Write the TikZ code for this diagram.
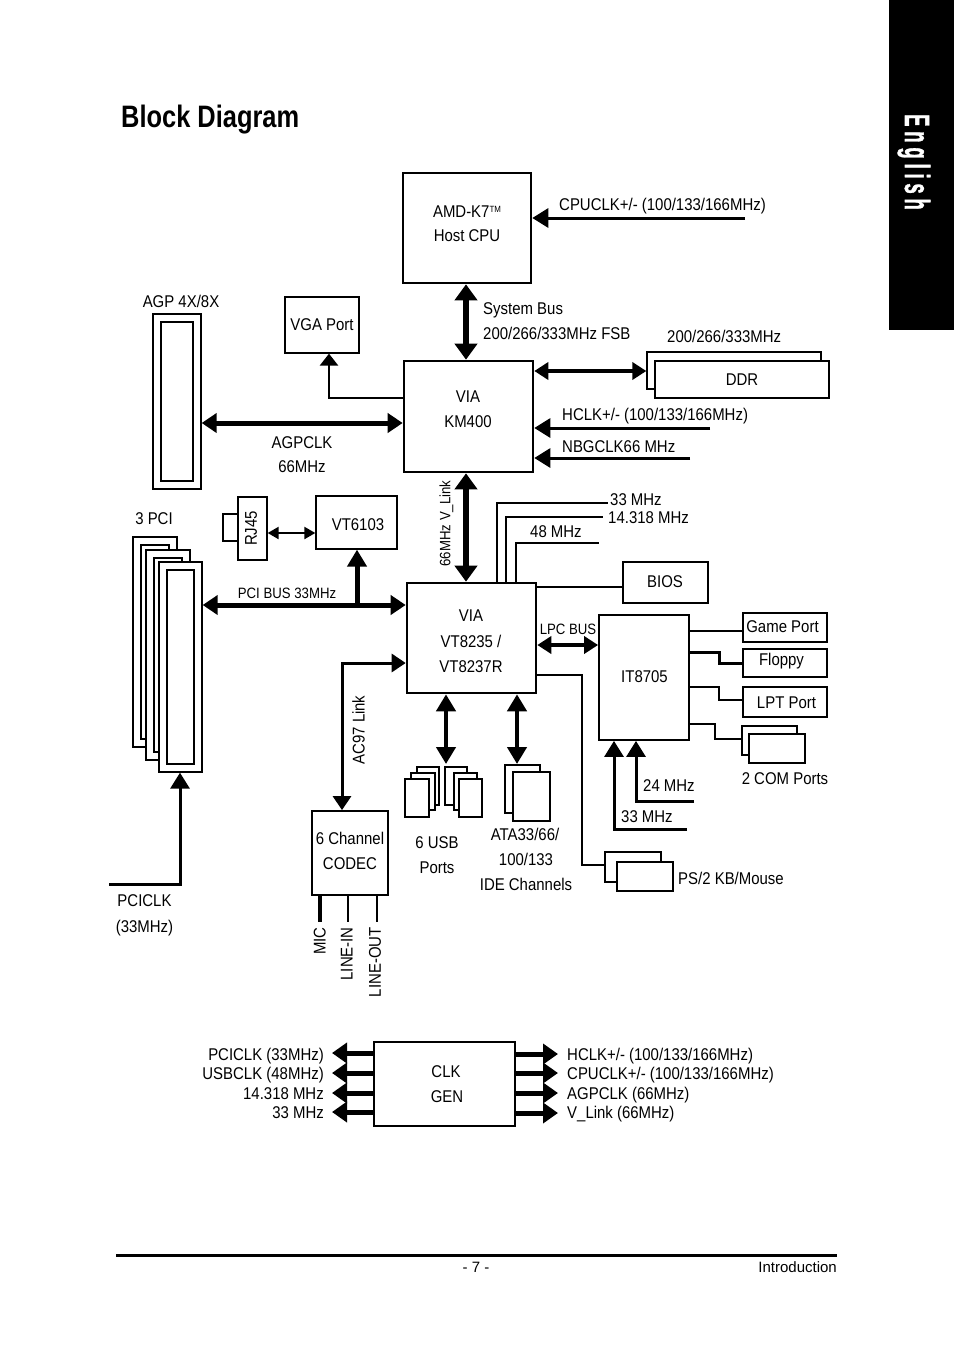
\documentclass[tikz,border=0pt]{standalone}
\usepackage{fontspec}
\setmainfont{Liberation Sans}[FakeStretch=0.88]
\newfontfamily\titlefont{Liberation Sans}[FakeStretch=0.82]
\newfontfamily\footfont{Liberation Sans}
\newfontfamily\tabfont{Liberation Sans}[BoldFeatures={FakeBold=1.5}]
\usetikzlibrary{arrows.meta}
\newcommand\mybox[6]{\node[#6, minimum width={(#4)-(#2)}, minimum height={(#5)-(#3)}] (#1) at ({((#2)+(#4))/2},{((#3)+(#5))/2}) {};}
\tikzset{
  chip/.style={draw, line width=2.6pt, fill=white, inner sep=0pt},
  chipm/.style={draw, line width=1.8pt, fill=white, inner sep=0pt},
  port/.style={draw, line width=1.3pt, fill=white, inner sep=0pt},
  lbl/.style={inner sep=0pt, anchor=base, font=\fontsize{17}{20}\selectfont},
  lblw/.style={lbl, anchor=base west},
  lble/.style={lbl, anchor=base east},
  lbls/.style={inner sep=0pt, anchor=base, font=\fontsize{15}{18}\selectfont},
  lblr/.style={inner sep=0pt, rotate=90, font=\fontsize{17}{20}\selectfont},
  wire/.style={line width=2.3pt},
  bigbus/.style={line width=5.5pt, arrows={Triangle[width=22pt,length=16pt]-Triangle[width=22pt,length=16pt]}},
  bus/.style={line width=5pt, arrows={Triangle[width=19pt,length=15pt]-Triangle[width=19pt,length=15pt]}},
  ubus/.style={line width=4.5pt, arrows={Triangle[width=19pt,length=17pt]-Triangle[width=19pt,length=17pt]}},
  busone/.style={line width=5pt, arrows={-Triangle[width=19pt,length=17pt]}},
  mbus/.style={line width=4pt, arrows={Triangle[width=17pt,length=14pt]-Triangle[width=17pt,length=14pt]}},
  clkin/.style={line width=3pt, arrows={-Triangle[width=19pt,length=16pt]}},
  vgaarrow/.style={line width=2.7pt, arrows={-Triangle[width=18pt,length=12pt]}},
  acarrow/.style={line width=3pt, arrows={Triangle[width=18pt,length=14pt]-Triangle[width=18pt,length=14pt]}},
  tinyarrow/.style={line width=2.2pt, arrows={Triangle[width=12pt,length=11pt]-Triangle[width=12pt,length=11pt]}},
  clkout/.style={line width=5pt, arrows={-Triangle[width=20pt,length=15pt]}}
}
\begin{document}
\begin{tikzpicture}[x=1pt,y=-1pt]
\useasboundingbox (0,0) rectangle (954,1352);
% English tab
\fill[black] (889,0) rectangle (954,330);
\node[inner sep=0pt, text=white] (tab) at (914,162) {\rotatebox{-90}{\scalebox{1}[1.9]{\tabfont\bfseries\fontsize{18.5}{18.5}\selectfont E\kern4.8pt n\kern4.8pt g\kern4.8pt l\kern4.8pt i\kern4.8pt s\kern4.8pt h}}};
% title
\node[inner sep=0pt, anchor=base west, font=\titlefont\bfseries\fontsize{31}{31}\selectfont] (title) at (121,127) {Block Diagram};

% CPU
\mybox{cpu}{403}{173}{531}{283}{chip}
\node[lbl] (cpuT1) at (467,217) {AMD-K7\raisebox{5pt}{\fontsize{9}{9}\selectfont TM}};
\node[lbl] (cpuT2) at (467,241.5) {Host CPU};
\coordinate (cpuclkE) at (745,218);
\draw[clkin] (cpuclkE) -- (cpuclkE -| cpu.east);
\node[lblw] (cpuclkL) at (559,210) {CPUCLK+/- (100/133/166MHz)};

% VGA / AGP
\mybox{vga}{285}{297}{359}{353}{port}
\node[lbl] (vgaT) at (322,330) {VGA Port};
\mybox{agp}{153}{314}{201}{489}{port}
\mybox{agpi}{161}{322}{193}{481}{port}
\node[lbl] (agpL) at (181,307) {AGP 4X/8X};

% KM400
\mybox{km}{404}{361}{533}{472}{chip}
\node[lbl] (kmT1) at (468,402.5) {VIA};
\node[lbl] (kmT2) at (468,427) {KM400};
\draw[bigbus] (cpu.south -| 466,0) -- (km.north -| 466,0);
\node[lblw] (fsbL1) at (483,314.5) {System Bus};
\node[lblw] (fsbL2) at (483,339.5) {200/266/333MHz FSB};
\draw[vgaarrow] (km.west |- 0,398) -| (vga.south -| 329,0);
\draw[bus] (agp.east |- 0,423) -- (km.west |- 0,423);
\node[lbl] (agpclk1) at (302,448) {AGPCLK};
\node[lbl] (agpclk2) at (302,472) {66MHz};

% DDR and clocks
\mybox{ddrb}{647}{352}{821}{389}{port}
\mybox{ddr}{655}{361}{829}{398}{port}
\node[lbl] (ddrT) at (742,385) {DDR};
\node[lblw] (ddrL) at (667,342) {200/266/333MHz};
\draw[mbus] (km.east |- 0,371) -- (ddrb.west |- 0,371);
\coordinate (hclkE) at (710,428);
\draw[clkin] (hclkE) -- (hclkE -| km.east);
\node[lblw] (hclkL) at (562,420) {HCLK+/- (100/133/166MHz)};
\coordinate (nbE) at (690,458);
\draw[clkin] (nbE) -- (nbE -| km.east);
\node[lblw] (nbL) at (562,452) {NBGCLK66 MHz};

% RJ45 / VT6103
\mybox{rjtab}{223}{514}{238}{541}{port}
\mybox{rj}{238}{497}{267}{560}{port}
\node[lblr] (rjT) at (251,528.5) {RJ45};
\mybox{vt61}{316}{496}{397}{549}{port}
\node[lbl] (vt61T) at (358,530) {VT6103};
\draw[tinyarrow] (rj.east |- 0,533) -- (vt61.west |- 0,533);

% PCI slots
\mybox{pcia}{133}{537}{177}{747}{port}
\mybox{pciai}{141}{545}{169}{739}{port}
\mybox{pcib}{146}{550}{190}{760}{port}
\mybox{pcibi}{154}{558}{182}{752}{port}
\mybox{pcic}{159}{562}{202}{772}{port}
\mybox{pcici}{167}{570}{194}{764}{port}
\node[lbl] (pciL) at (154,524.5) {3 PCI};

% South bridge
\mybox{sb}{407}{583}{536}{693}{chip}
\node[lbl] (sbT1) at (471,621) {VIA};
\node[lbl] (sbT2) at (471,647.5) {VT8235 /};
\node[lbl] (sbT3) at (471,672) {VT8237R};
\draw[bigbus] (km.south -| 466,0) -- (sb.north -| 466,0);
\node[lblr, font=\fontsize{15}{18}\selectfont] (vlinkL) at (446.5,523.5) {66MHz V\_Link};
\draw[bus] (pcic.east |- 0,605) -- (sb.west |- 0,605);
\coordinate (pcibr) at (357,605);
\draw[busone] (pcibr) -- (vt61.south -| 357,0);
\node[lbls] (pcibusL) at (287,598.5) {PCI BUS 33MHz};

% clock lines into south bridge
\coordinate (c33) at (608,503);
\coordinate (c14) at (603,517);
\coordinate (c48) at (599,543);
\draw[wire] (sb.north -| 497,0) |- (c33);
\draw[wire] (sb.north -| 506,0) |- (c14);
\draw[wire] (sb.north -| 516,0) |- (c48);
\node[lblw] (c33L) at (610,505) {33 MHz};
\node[lblw] (c14L) at (608,523.5) {14.318 MHz};
\node[lblw] (c48L) at (530,537) {48 MHz};

% BIOS
\mybox{bios}{623}{562}{708}{603}{port}
\node[lbl] (biosT) at (665,587.5) {BIOS};
\draw[wire] (sb.east |- 0,587) -- (bios.west |- 0,587);

% IT8705
\mybox{it}{599}{615}{689}{740}{chipm}
\node[lbl] (itT) at (644.5,682.5) {IT8705};
\draw[mbus] (sb.east |- 0,645) -- (it.west |- 0,645);
\node[lbls] (lpcL) at (568,634.5) {LPC BUS};

% ports on IT8705
\mybox{game}{743}{613}{827}{642}{port}
\node[lbl] (gameT) at (782.5,632.5) {Game Port};
\mybox{fdd}{743}{649}{827}{677}{port}
\node[lbl] (fddT) at (781.5,665) {Floppy};
\mybox{lpt}{743}{687}{827}{717}{port}
\node[lbl] (lptT) at (786.5,708) {LPT Port};
\mybox{comb}{742}{726}{797}{755}{port}
\mybox{com}{749}{734}{805}{763}{port}
\node[lbl] (comL) at (785,784) {2 COM Ports};
\draw[wire] (it.east |- 0,631) -- (game.west |- 0,631);
\draw[wire, line width=3pt] (it.east |- 0,652) -- (719,652) -- (719,663) -- (fdd.west |- 0,663);
\draw[wire] (it.east |- 0,687) -- (719,687) -- (719,700) -- (lpt.west |- 0,700);
\draw[wire] (it.east |- 0,724) -- (715,724) -- (715,739) -- (comb.west |- 0,739);

% IT8705 clocks
\coordinate (k24) at (694,801);
\coordinate (k33) at (687,829);
\draw[clkin] (k24) -| (it.south -| 636,0);
\draw[clkin] (k33) -| (it.south -| 614,0);
\node[lblw] (k24L) at (643,791) {24 MHz};
\node[lblw] (k33L) at (621,822) {33 MHz};

% USB / IDE
\coordinate (usbTop) at (446,764);
\coordinate (ideTop) at (517,764);
\draw[ubus] (sb.south -| 446,0) -- (usbTop);
\draw[ubus] (sb.south -| 517,0) -- (ideTop);
\mybox{usba}{417}{767}{439}{805}{port}
\mybox{usbb}{411}{773}{435}{810}{port}
\mybox{usbc}{405}{779}{429}{817}{port}
\mybox{usbd}{445}{767}{467}{805}{port}
\mybox{usbe}{454}{773}{477}{810}{port}
\mybox{usbf}{459}{779}{482}{817}{port}
\node[lbl] (usbL1) at (437,848) {6 USB};
\node[lbl] (usbL2) at (437,873) {Ports};
\mybox{ideb}{505}{765}{540}{813}{port}
\mybox{ide}{513}{772}{550}{821}{port}
\node[lbl] (ideL1) at (525,840) {ATA33/66/};
\node[lbl] (ideL2) at (526,865) {100/133};
\node[lbl] (ideL3) at (526,890) {IDE Channels};

% PS/2
\mybox{psb}{605}{852}{661}{882}{port}
\mybox{ps}{617}{862}{673}{891}{port}
\draw[wire] (sb.east |- 0,675) -- (582,675) -- (582,865) -- (psb.west |- 0,865);
\node[lblw] (psL) at (678,884) {PS/2 KB/Mouse};

% CODEC
\mybox{codec}{312}{811}{388}{895}{chipm}
\node[lbl] (codT1) at (350,844) {6 Channel};
\node[lbl] (codT2) at (350,869) {CODEC};
\draw[acarrow] (codec.north -| 342,0) |- (sb.west |- 0,663);
\node[lblr] (acL) at (358.5,730) {AC97 Link};
\coordinate (micE) at (320,922);
\coordinate (linE) at (347.5,922);
\coordinate (loutE) at (377,922);
\draw[wire, line width=3.3pt] (codec.south -| micE) -- (micE);
\draw[wire, line width=2pt] (codec.south -| linE) -- (linE);
\draw[wire, line width=2pt] (codec.south -| loutE) -- (loutE);
\node[lblr, anchor=east] (micL) at (319.7,927) {MIC};
\node[lblr, anchor=east] (linL) at (346.7,927) {LINE-IN};
\node[lblr, anchor=east] (loutL) at (375,927) {LINE-OUT};

% PCICLK
\coordinate (pciclkE) at (109,884);
\draw[clkin] (pciclkE) -| (pcic.south -| 180,0);
\node[lbl] (pciclkL1) at (144.5,906) {PCICLK};
\node[lbl] (pciclkL2) at (144.5,932) {(33MHz)};

% CLK GEN
\mybox{clk}{374}{1042}{515}{1126}{chip}
\node[lbl] (clkT1) at (446,1077) {CLK};
\node[lbl] (clkT2) at (447,1102) {GEN};
\coordinate (lo1) at (332,1053);
\coordinate (lo2) at (332,1073);
\coordinate (lo3) at (332,1093);
\coordinate (lo4) at (332,1112);
\coordinate (ro1) at (558,1054);
\coordinate (ro2) at (558,1073);
\coordinate (ro3) at (558,1093);
\coordinate (ro4) at (558,1113);
\foreach \c in {lo1,lo2,lo3,lo4} {\draw[clkout] (clk.west |- \c) -- (\c);}
\foreach \c in {ro1,ro2,ro3,ro4} {\draw[clkout] (clk.east |- \c) -- (\c);}
\node[lble] (loL1) at (324,1060) {PCICLK (33MHz)};
\node[lble] (loL2) at (324,1079.5) {USBCLK (48MHz)};
\node[lble] (loL3) at (324,1099) {14.318 MHz};
\node[lble] (loL4) at (324,1118.5) {33 MHz};
\node[lblw] (roL1) at (567,1060) {HCLK+/- (100/133/166MHz)};
\node[lblw] (roL2) at (567,1079.5) {CPUCLK+/- (100/133/166MHz)};
\node[lblw] (roL3) at (567,1099) {AGPCLK (66MHz)};
\node[lblw] (roL4) at (567,1118.5) {V\_Link (66MHz)};

% footer
\draw[line width=2.5pt] (116,1255.5) -- (837,1255.5);
\node[inner sep=0pt, anchor=base, font=\footfont\fontsize{15}{15}\selectfont] (pg) at (476,1272.5) {- 7 -};
\node[inner sep=0pt, anchor=base east, font=\footfont\fontsize{15}{15}\selectfont] (intro) at (837,1272.5) {Introduction};
\end{tikzpicture}
\end{document}
